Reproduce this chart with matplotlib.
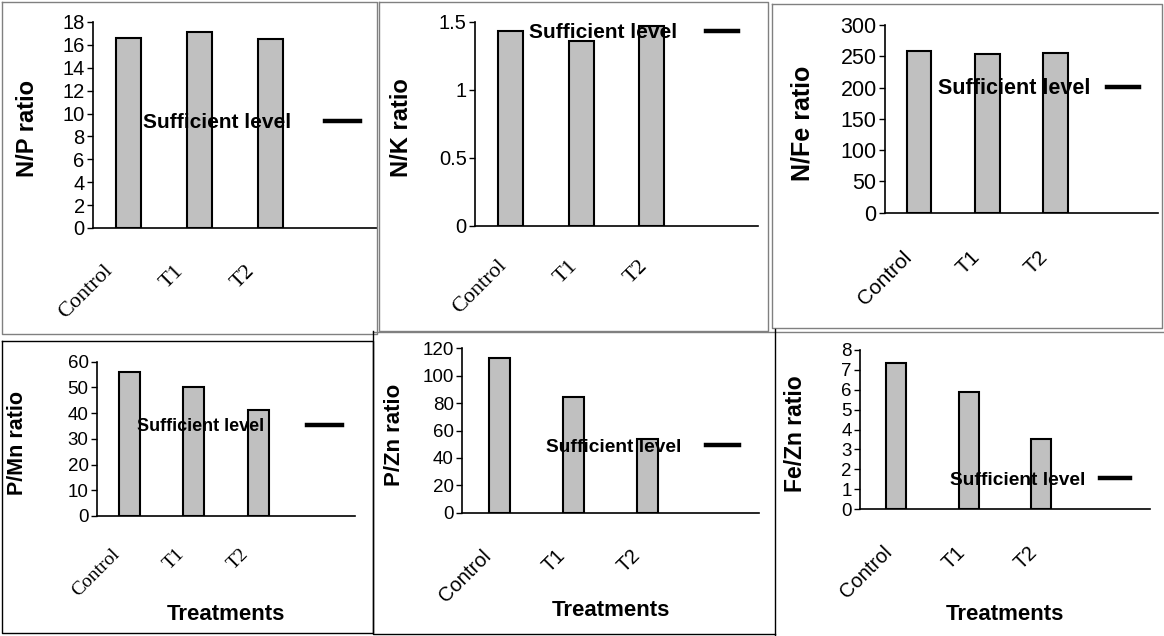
# Nutrient ratio panels (N/P, N/K, N/Fe, P/Mn, P/Zn, Fe/Zn)

import matplotlib.pyplot as plt
from matplotlib.lines import Line2D
from matplotlib.ticker import FuncFormatter
from matplotlib.transforms import ScaledTranslation
import numpy as np

treatments = ['Control', 'T1', 'T2', '']
np_ratio = [16.6, 17.15, 16.5]
nk_ratio = [1.43, 1.36, 1.47]
nfe_ratio = [259, 253, 256]
pmn_ratio = [55.9, 50.3, 41.1]
pzn_ratio = [112.7, 84.2, 53.6]
fezn_ratio = [7.36, 5.87, 3.51]
legend_label = 'Sufficient level'

W, H = 1164, 636
fig = plt.figure(figsize=(W / 100, H / 100), dpi=100)


def fx(px):
    return px / W


def fy(py):
    return 1 - py / H


# layout in pixels: axes box (left, right, top, bottom), legend text left/centre,
# y label centre x, tick label font, etc.
panels = [
    dict(vals=np_ratio, ylabel='N/P ratio', box=(93, 377, 22, 228), ymax=18, step=2,
         width=0.36, ylab_x=28, ylab_fs=17, tick_fs=14.5, leg=(143, 123), leg_fs=15,
         hl=35, gap=34, xfam='Liberation Serif', xfs=16, pad=24, dx=-12, xlabel=None),
    dict(vals=nk_ratio, ylabel='N/K ratio', box=(475, 758, 21.7, 225.7), ymax=1.5, step=0.5,
         width=0.35, ylab_x=402, ylab_fs=17, tick_fs=14.5, leg=(529, 33), leg_fs=15,
         hl=32, gap=29, xfam='Liberation Serif', xfs=16, pad=22, dx=0, xlabel=None),
    dict(vals=nfe_ratio, ylabel='N/Fe ratio', box=(885, 1158, 25, 212.7), ymax=300, step=50,
         width=0.36, ylab_x=802, ylab_fs=18, tick_fs=15.5, leg=(938, 89), leg_fs=15.5,
         hl=32, gap=17, xfam='Liberation Sans', xfs=15, pad=25, dx=-4, xlabel=None),
    dict(vals=pmn_ratio, ylabel='P/Mn ratio', box=(97, 355, 361.7, 516), ymax=60, step=10,
         width=0.32, ylab_x=17, ylab_fs=15.5, tick_fs=13.5, leg=(137, 426.5), leg_fs=13,
         hl=35, gap=43, xfam='Liberation Serif', xfs=14, pad=21, dx=-6, xlabel=615),
    dict(vals=pzn_ratio, ylabel='P/Zn ratio', box=(462, 759, 348.3, 512.7), ymax=120, step=20,
         width=0.28, ylab_x=394, ylab_fs=16, tick_fs=13.5, leg=(546, 447), leg_fs=13.8,
         hl=33, gap=25, xfam='Liberation Sans', xfs=14.5, pad=24, dx=-4, xlabel=611),
    dict(vals=fezn_ratio, ylabel='Fe/Zn ratio', box=(860, 1150, 350, 509), ymax=8, step=1,
         width=0.27, ylab_x=795, ylab_fs=16.5, tick_fs=13.5, leg=(950, 480), leg_fs=13.8,
         hl=30, gap=15, xfam='Liberation Sans', xfs=14.5, pad=24, dx=0, xlabel=615),
]

x = np.arange(len(treatments))

for p in panels:
    left, right, top, bottom = p['box']
    ax = fig.add_axes([fx(left), fy(bottom), fx(right - left), (bottom - top) / H])
    ax.bar(x[:len(p['vals'])], p['vals'], width=p['width'], color='#c0c0c0',
           edgecolor='black', linewidth=1.5, zorder=2)
    ax.plot([], [], color='black', lw=3.2, label=legend_label)

    ax.set_xlim(-0.5, len(treatments) - 0.5)
    ax.set_ylim(0, p['ymax'])
    ax.set_yticks(np.arange(0, p['ymax'] + p['step'] / 2, p['step']))
    ax.yaxis.set_major_formatter(FuncFormatter(lambda v, pos: f'{v:g}'))
    ax.set_xticks(x)
    ax.tick_params(axis='x', length=0, pad=p['pad'])
    ax.tick_params(axis='y', direction='out', length=4, width=1, labelsize=p['tick_fs'], pad=2)
    ax.set_xticklabels(treatments, rotation=45, ha='right', va='top',
                       family=p['xfam'], fontsize=p['xfs'])
    for lbl in ax.get_xticklabels():
        lbl.set_transform(lbl.get_transform() + ScaledTranslation(p['dx'] / 100, 0, fig.dpi_scale_trans))
    for t in ax.get_yticklabels():
        t.set_family('Liberation Sans')

    for s in ['top', 'right']:
        ax.spines[s].set_visible(False)
    for s in ['left', 'bottom']:
        ax.spines[s].set_linewidth(1.2)
    ax.set_facecolor('none')

    ax.set_ylabel(p['ylabel'], family='Liberation Sans', weight='bold',
                  fontsize=p['ylab_fs'], va='center')
    ax.yaxis.set_label_coords((p['ylab_x'] - left) / (right - left),
                              (bottom - (top + bottom) / 2 - 4) / (bottom - top))
    if p['xlabel'] is not None:
        ax.set_xlabel('Treatments', family='Liberation Sans', weight='bold',
                      fontsize=16, va='center')
        ax.xaxis.set_label_coords(0.5, -(p['xlabel'] - bottom) / (bottom - top))

    fs_px = p['leg_fs'] * 100 / 72
    ax.legend(loc='center left', bbox_to_anchor=(fx(p['leg'][0]), fy(p['leg'][1])),
              bbox_transform=fig.transFigure, frameon=False, markerfirst=False,
              borderpad=0, borderaxespad=0, handlelength=p['hl'] / fs_px,
              handletextpad=p['gap'] / fs_px,
              prop=dict(family='Liberation Sans', weight='bold', size=p['leg_fs']))

# chart frames pasted side by side
gray = '#808080'
frames = [
    ((2, 377, 377, 2, 2), (2, 2, 334, 334, 2), gray),
    ((379, 768, 768, 379, 379), (2, 2, 331, 331, 2), gray),
    ((772, 1162, 1162, 772, 772), (4, 4, 328, 328, 4), gray),
    ((373, 1164), (332, 332), gray),
    ((2, 373, 373, 2, 2), (341, 341, 633, 633, 341), 'black'),
    ((373, 373, 775), (331, 634, 634), 'black'),
    ((775, 775), (329, 636), 'black'),
]
for xs, ys, c in frames:
    fig.add_artist(Line2D([fx(v) for v in xs], [fy(v) for v in ys],
                          transform=fig.transFigure, color=c, lw=1))

plt.savefig('out.png', dpi=100)
